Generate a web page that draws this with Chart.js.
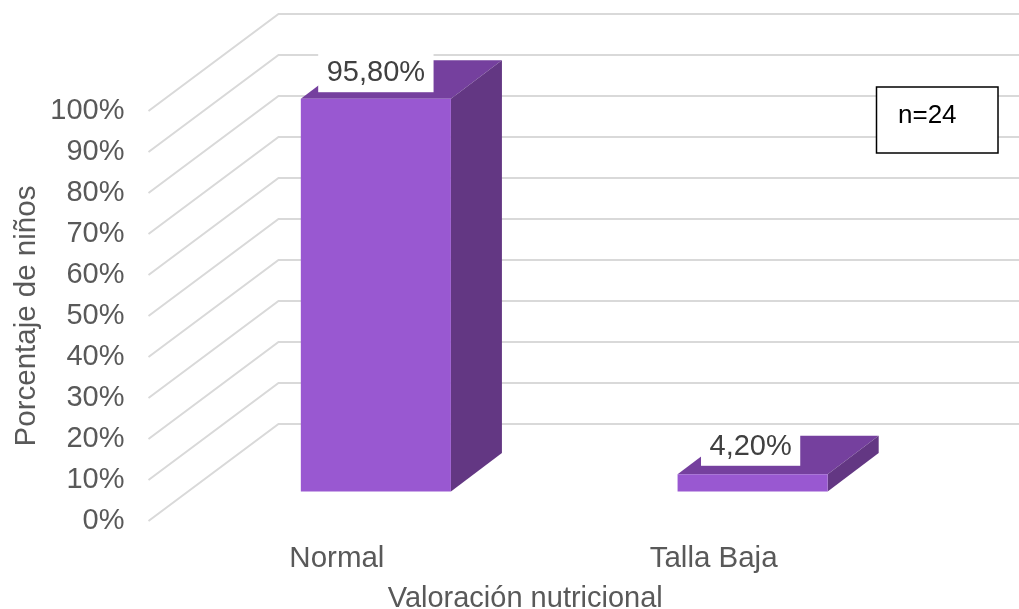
<!DOCTYPE html>
<html>
<head>
<meta charset="utf-8">
<style>html,body{margin:0;padding:0;background:#fff}canvas{display:block}</style>
<script src="https://cdn.jsdelivr.net/npm/chart.js@4"></script>
</head>
<body>
<canvas id="c" width="1019" height="609"></canvas>
<script>
const categories = ["Normal", "Talla Baja"];
const values = [95.8, 4.2];
const valueLabels = ["95,80%", "4,20%"];
const tickStep = 10;
const note = "n=24";
const xTitle = "Valoración nutricional";
const yTitle = "Porcentaje de niños";

const FONT = '"Liberation Sans", Arial, sans-serif';
const wall = {dx: 130, dy: -97};
const barOffset = {dx: 39, dy: -29.5};
const barDepth = {dx: 51, dy: -38.5};
const labelShift = [{dx: 0, dy: -26.5}, {dx: -2, dy: -28.5}];

const threeD = {
  id: "threeD",
  beforeDraw(chart) {
    const {ctx, chartArea, scales: {y}} = chart;
    ctx.save();
    ctx.strokeStyle = "#d9d9d9";
    ctx.lineWidth = 2;
    y.ticks.forEach(t => {
      const py = y.getPixelForValue(t.value);
      ctx.beginPath();
      ctx.moveTo(chartArea.left, py);
      ctx.lineTo(chartArea.left + wall.dx, py + wall.dy);
      ctx.lineTo(chart.width, py + wall.dy);
      ctx.stroke();
    });
    ctx.restore();
  },
  beforeDatasetsDraw(chart) {
    const ctx = chart.ctx;
    const y = chart.scales.y;
    const base = y.getPixelForValue(0);
    ctx.save();
    ctx.translate(barOffset.dx, barOffset.dy);
    chart.getDatasetMeta(0).data.forEach(b => {
      const l = b.x - b.width / 2, r = b.x + b.width / 2, t = b.y;
      ctx.fillStyle = "#75409e";
      ctx.beginPath();
      ctx.moveTo(l, t);
      ctx.lineTo(l + barDepth.dx, t + barDepth.dy);
      ctx.lineTo(r + barDepth.dx, t + barDepth.dy);
      ctx.lineTo(r, t);
      ctx.closePath();
      ctx.fill();
      ctx.fillStyle = "#633783";
      ctx.beginPath();
      ctx.moveTo(r, t);
      ctx.lineTo(r + barDepth.dx, t + barDepth.dy);
      ctx.lineTo(r + barDepth.dx, base + barDepth.dy);
      ctx.lineTo(r, base);
      ctx.closePath();
      ctx.fill();
    });
  },
  afterDatasetsDraw(chart) {
    chart.ctx.restore();
  },
  afterDraw(chart) {
    const ctx = chart.ctx;
    ctx.save();
    ctx.font = "29px " + FONT;
    ctx.textAlign = "center";
    ctx.textBaseline = "middle";
    chart.getDatasetMeta(0).data.forEach((b, i) => {
      const cx = b.x + barOffset.dx + labelShift[i].dx;
      const cy = b.y + barOffset.dy + labelShift[i].dy;
      const w = ctx.measureText(valueLabels[i]).width + 17;
      ctx.fillStyle = "#fff";
      ctx.fillRect(cx - w / 2, cy - 20, w, 40);
      ctx.fillStyle = "#404040";
      ctx.fillText(valueLabels[i], cx, cy + 1);
    });
    ctx.fillStyle = "#fff";
    ctx.strokeStyle = "#000";
    ctx.lineWidth = 1.5;
    ctx.fillRect(876.5, 87, 121.5, 66);
    ctx.strokeRect(876.5, 87, 121.5, 66);
    ctx.fillStyle = "#000";
    ctx.font = "26px " + FONT;
    ctx.textAlign = "left";
    ctx.fillText(note, 898, 116);
    ctx.restore();
  }
};

new Chart(document.getElementById("c"), {
  type: "bar",
  data: {
    labels: categories,
    datasets: [{
      data: values,
      backgroundColor: "#9958d1",
      barPercentage: 150 / 376.5,
      categoryPercentage: 1,
      clip: false
    }]
  },
  plugins: [threeD],
  options: {
    responsive: false,
    animation: false,
    layout: {padding: {top: 111, right: 117, bottom: 0, left: 0}},
    plugins: {legend: {display: false}, tooltip: {enabled: false}},
    scales: {
      x: {
        grid: {display: false},
        border: {display: false},
        ticks: {color: "#595959", font: {family: FONT, size: 29.5}, padding: 12, maxRotation: 0},
        title: {display: true, text: xTitle, color: "#595959", font: {family: FONT, size: 29}, padding: {top: 0, bottom: -7}},
        afterFit(s) { s.height = 88; }
      },
      y: {
        min: 0,
        max: 100,
        grid: {display: false},
        border: {display: false},
        ticks: {
          stepSize: tickStep,
          color: "#595959",
          font: {family: FONT, size: 29},
          padding: 16,
          callback: v => v + "%"
        },
        title: {display: true, text: yTitle, color: "#595959", font: {family: FONT, size: 29.5}, padding: {top: 9, bottom: 0}},
        afterFit(s) { s.width = 148.5; }
      }
    }
  }
});
</script>
</body>
</html>
